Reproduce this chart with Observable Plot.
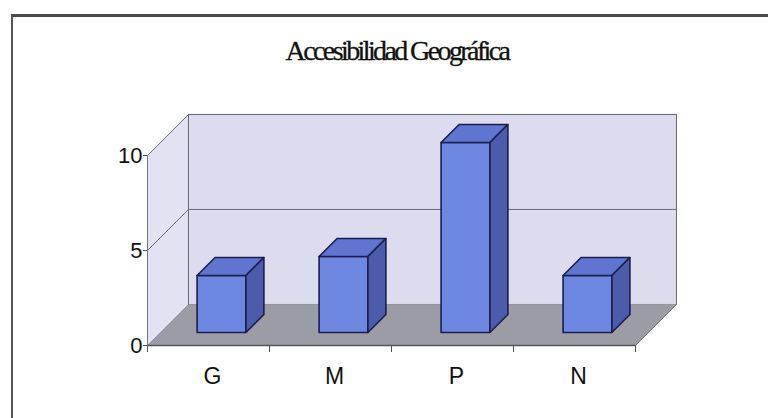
<!DOCTYPE html>
<html>
<head>
<meta charset="utf-8">
<script src="https://cdn.jsdelivr.net/npm/d3@7"></script>
<script src="https://cdn.jsdelivr.net/npm/@observablehq/plot@0.6"></script>
<style>
  html, body { margin: 0; padding: 0; background: #fff; }
  #wrap { position: relative; width: 768px; height: 418px; overflow: hidden; }
  #frame { position: absolute; left: 11px; top: 14px; right: -10px; bottom: -10px;
           border-top: 3px solid #4a4a4a; border-left: 2px solid #555; }
  #title { position: absolute; left: 0; width: 794px; top: 35px; text-align: center;
           font-family: "Liberation Serif", "DejaVu Serif", serif; font-size: 28px;
           letter-spacing: -2.6px; color: #111; -webkit-text-stroke: 0.3px #111; }
  #chart { position: absolute; left: 0; top: 0; }
</style>
</head>
<body>
<div id="wrap">
  <div id="frame"></div>
  <div id="title">Accesibilidad Geográfica</div>
  <div id="chart"></div>
</div>
<script>
// Data
const categories = ["G", "M", "P", "N"];
const values = [3, 4, 10, 3];
const yTicks = [0, 5, 10];
const yMax = 10;

// 3D projection constants (depth expressed in data units)
const DX = 0.336;   // horizontal depth offset, in category units
const DY = 2.16;    // vertical depth offset, in value units
const F0 = 0.317, F1 = 0.756; // bar front/back depth fractions
const BW = 0.4;     // bar width in category units
const n = categories.length;

const P = (x, y, f) => ({x: x + f * DX, y: y + f * DY});
function poly(id, color, pts) {
  const out = pts.map(([x, y, f]) => ({id, color, ...P(x, y, f)}));
  out.push({...out[0]});
  return out;
}

// Walls and floor
const walls = [
  ...poly("floor", "#9c9ca6", [[0,0,0],[n,0,0],[n,0,1],[0,0,1]]),
  ...poly("back", "#dcdcee", [[0,0,1],[n,0,1],[n,yMax,1],[0,yMax,1]]),
  ...poly("left", "#e2e2f2", [[0,0,0],[0,0,1],[0,yMax,1],[0,yMax,0]])
];

// Gridlines on walls
const grid = [];
yTicks.filter(v => v > 0).forEach(v => {
  [[0,v,0],[0,v,1],[n,v,1]].forEach(([x,y,f]) => grid.push({id: "g" + v, ...P(x,y,f)}));
});
grid.push({id: "re", ...P(n,0,1)}, {id: "re", ...P(n,yMax,1)});
grid.push({id: "le", ...P(0,0,1)}, {id: "le", ...P(0,yMax,1)});

// Bars
const faces = [];
values.forEach((v, i) => {
  const x0 = i + 0.5 - BW / 2, x1 = i + 0.5 + BW / 2;
  faces.push(...poly("f" + i, "#6e88e2", [[x0,0,F0],[x1,0,F0],[x1,v,F0],[x0,v,F0]]));
  faces.push(...poly("t" + i, "#5f75cf", [[x0,v,F0],[x1,v,F0],[x1,v,F1],[x0,v,F1]]));
  faces.push(...poly("s" + i, "#4c5cab", [[x1,0,F0],[x1,0,F1],[x1,v,F1],[x1,v,F0]]));
});

const floorEdges = [
  {id: "fr", ...P(n,0,0)}, {id: "fr", ...P(n,0,1)}
];

const chart = Plot.plot({
  width: 768,
  height: 418,
  marginLeft: 147,
  marginRight: 133,
  marginTop: 155,
  marginBottom: 73,
  style: {background: "transparent", fontFamily: "Liberation Sans, Arial, sans-serif", color: "#111"},
  x: {type: "linear", domain: [0, n], axis: null, label: null},
  y: {domain: [0, yMax], axis: null, label: null},
  color: {type: "identity"},
  marks: [
    Plot.line(walls, {x: "x", y: "y", z: "id", fill: "color", stroke: "#8a8a96", strokeWidth: 0.8}),
    Plot.line(grid, {x: "x", y: "y", z: "id", stroke: "#6a6a78", strokeWidth: 1}),
    Plot.line(floorEdges, {x: "x", y: "y", z: "id", stroke: "#777", strokeWidth: 1}),
    Plot.line(faces, {x: "x", y: "y", z: "id", fill: "color", stroke: "#1b1d4d", strokeWidth: 1.6, strokeLinejoin: "round"}),
    Plot.ruleX([0], {y1: 0, y2: yMax, stroke: "#777", strokeWidth: 1}),
    Plot.ruleY([0], {x1: 0, x2: n, stroke: "#555", strokeWidth: 1.5}),
    Plot.axisY({ticks: yTicks, tickSize: 4, tickPadding: 1, fontSize: 22, stroke: "#555", label: null}),
    Plot.axisX({ticks: d3.range(n + 1), tickSize: 7, tickFormat: () => "", stroke: "#555", label: null}),
    Plot.axisX({ticks: categories.map((c, i) => i + 0.5), tickSize: 0, tickPadding: 22,
                tickFormat: d => categories[Math.floor(d)], fontSize: 23, dx: 4, label: null})
  ]
});
document.getElementById("chart").appendChild(chart);
</script>
</body>
</html>
